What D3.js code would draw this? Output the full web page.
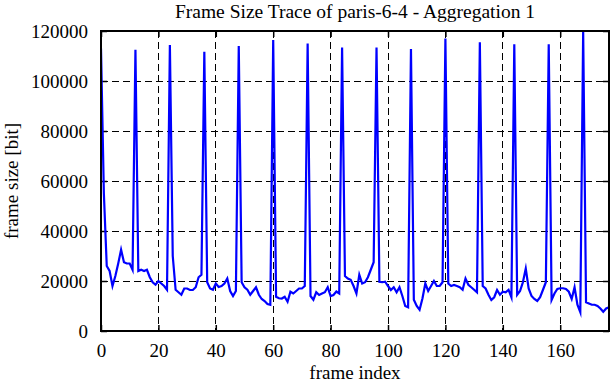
<!DOCTYPE html>
<html>
<head>
<meta charset="utf-8">
<script src="https://cdn.jsdelivr.net/npm/d3@7/dist/d3.min.js"></script>
<style>
  html, body { margin: 0; padding: 0; background: #fff; }
  svg { display: block; }
  text { font-family: "Liberation Serif", "Times New Roman", serif; fill: #000; }
</style>
</head>
<body>
<svg id="chart" width="612" height="382"></svg>
<script>
// ---- data ----
const title = "Frame Size Trace of paris-6-4 - Aggregation 1";
const xLabel = "frame index";
const yLabel = "frame size [bit]";
const xTicks = [0, 20, 40, 60, 80, 100, 120, 140, 160];
const yTicks = [0, 20000, 40000, 60000, 80000, 100000, 120000];
const xDomain = [0, 177];
const yDomain = [0, 120000];
// frame size per frame index 0..177
const frameSize = [
  113000, 55000, 26000, 24000, 18000, 22000, 27000, 32500, 27500, 27000,
  27000, 24500, 112500, 24000, 24500, 24000, 24500, 21500, 19500, 18500,
  20000, 19000, 18000, 16500, 114400, 30000, 16500, 15500, 14500, 17000,
  17000, 16400, 16400, 17500, 21500, 22500, 111700, 19500, 17000, 16500,
  19000, 17600, 18000, 19000, 21000, 16000, 14000, 16000, 114000, 19500,
  17500, 16500, 14500, 16000, 17500, 14500, 12800, 12000, 10800, 10500,
  116400, 13700, 13100, 13000, 13700, 11700, 15700, 15000, 16000, 17000,
  17000, 18000, 115000, 14000, 12500, 15500, 14400, 15000, 15500, 17500,
  14000, 14400, 15800, 15000, 113400, 22000, 21000, 20500, 18000, 15000,
  22500, 19000, 19500, 21500, 24500, 27500, 113400, 19700, 19500, 19700,
  18000, 16400, 17500, 15500, 17500, 14000, 10000, 9500, 112800, 12500,
  10000, 8500, 13000, 19000, 16000, 18000, 20000, 18000, 18000, 19500,
  117000, 19000, 18000, 18400, 18000, 17500, 16500, 21000, 18500, 17500,
  16500, 15500, 115500, 18000, 17000, 14500, 12400, 13500, 16400, 14500,
  15700, 15500, 16500, 13500, 114700, 14500, 16000, 19500, 25000, 17000,
  14000, 12800, 12000, 13500, 16500, 19500, 114700, 12400, 15000, 16800,
  17100, 17100, 16800, 15700, 12800, 17500, 10500, 7500, 119700, 11500,
  11000, 10500, 10500, 10000, 9000, 7700, 9000, 9500
];

// ---- layout ----
const W = 612, H = 382;
const m = { left: 101, right: 3, top: 31, bottom: 51 };
const pw = W - m.left - m.right, ph = H - m.top - m.bottom;

const svg = d3.select("#chart");
const g = svg.append("g").attr("transform", `translate(${m.left},${m.top})`);

const x = d3.scaleLinear().domain(xDomain).range([0, pw]);
const y = d3.scaleLinear().domain(yDomain).range([ph, 0]);

const FS = 19;

// grid
g.append("g").selectAll("line.vg").data(xTicks.filter(d => d > xDomain[0]))
  .join("line")
  .attr("x1", d => x(d)).attr("x2", d => x(d))
  .attr("y1", 0).attr("y2", ph)
  .attr("stroke", "#000").attr("stroke-width", 1)
  .attr("stroke-dasharray", "7,4").attr("shape-rendering", "crispEdges");
g.append("g").selectAll("line.hg").data(yTicks.filter(d => d > yDomain[0] && d < yDomain[1]))
  .join("line")
  .attr("x1", 0).attr("x2", pw)
  .attr("y1", d => y(d)).attr("y2", d => y(d))
  .attr("stroke", "#000").attr("stroke-width", 1)
  .attr("stroke-dasharray", "7,4").attr("shape-rendering", "crispEdges");

// axes with inward ticks (gnuplot style, mirrored)
const tk = 6;
const axB = g.append("g").attr("transform", `translate(0,${ph})`)
  .call(d3.axisBottom(x).tickValues(xTicks).tickSize(-tk).tickPadding(tk + 6.5).tickFormat(d3.format("d")));
const axT = g.append("g")
  .call(d3.axisTop(x).tickValues(xTicks).tickSize(-tk).tickFormat(""));
const axL = g.append("g")
  .call(d3.axisLeft(y).tickValues(yTicks).tickSize(-tk).tickPadding(tk + 7).tickFormat(d3.format("d")));
const axR = g.append("g").attr("transform", `translate(${pw},0)`)
  .call(d3.axisRight(y).tickValues(yTicks).tickSize(-tk).tickFormat(""));
[axB, axT, axL, axR].forEach(a => {
  a.select(".domain").remove();
  a.selectAll(".tick line").attr("stroke", "#000").attr("stroke-width", 1.5);
  a.selectAll("text").attr("font-family", "Liberation Serif, serif").attr("font-size", FS).attr("fill", "#000");
});

// data line
g.append("clipPath").attr("id", "clip").append("rect").attr("width", pw).attr("height", ph);
const line = d3.line().x((d, i) => x(i)).y(d => y(d));
g.append("path").datum(frameSize)
  .attr("d", line)
  .attr("fill", "none").attr("stroke", "#0000ff").attr("stroke-width", 2.2)
  .attr("stroke-linejoin", "miter").attr("stroke-miterlimit", 10)
  .attr("clip-path", "url(#clip)");

// border
g.append("rect").attr("width", pw).attr("height", ph)
  .attr("fill", "none").attr("stroke", "#000").attr("stroke-width", 2);

// texts
svg.append("text").attr("x", m.left + pw / 2).attr("y", 17.5)
  .attr("text-anchor", "middle").attr("font-size", 19.5).text(title);
svg.append("text").attr("x", m.left + pw / 2).attr("y", 379)
  .attr("text-anchor", "middle").attr("font-size", FS).text(xLabel);
svg.append("text").attr("transform", `translate(18,${m.top + ph / 2}) rotate(-90)`)
  .attr("text-anchor", "middle").attr("font-size", FS).text(yLabel);
</script>
</body>
</html>
